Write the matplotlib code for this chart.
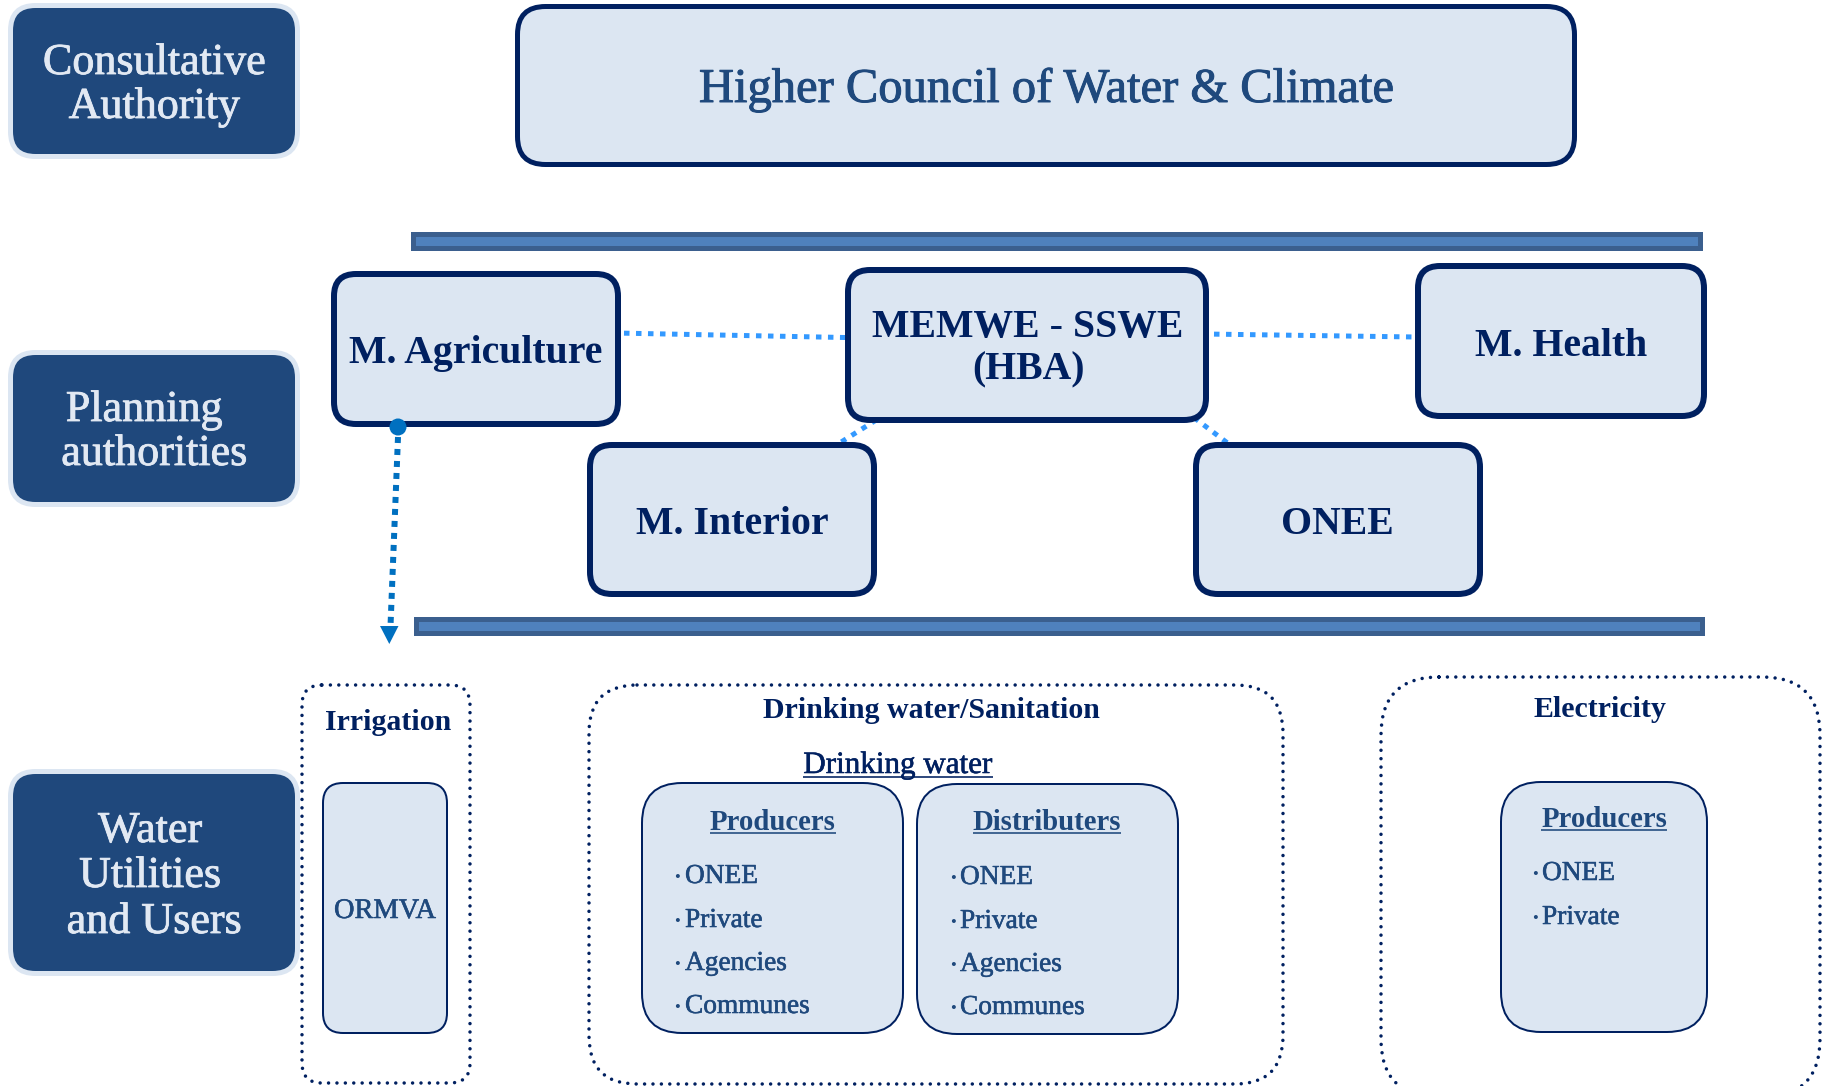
import matplotlib
matplotlib.use("Agg")
import matplotlib.pyplot as plt
import matplotlib.patheffects as pe
from matplotlib.patches import FancyBboxPatch, Rectangle, Polygon, Circle

# ---------------- data (text content of the diagram) ----------------
LEVEL_LABELS = [["Consultative", "Authority"],
                ["Planning", "authorities"],
                ["Water", "Utilities", "and Users"]]
COUNCIL = "Higher Council of Water & Climate"
PLANNING = ["M. Agriculture", "MEMWE - SSWE", "(HBA)", "M. Interior", "ONEE", "M. Health"]
SECTORS = ["Irrigation", "Drinking water/Sanitation", "Electricity"]
SUBSECTOR = "Drinking water"
IRRIGATION_UNITS = ["ORMVA"]
GROUP_TITLES = ["Producers", "Distributers", "Producers"]
DW_PRODUCERS = ["ONEE", "Private", "Agencies", "Communes"]
DW_DISTRIBUTERS = ["ONEE", "Private", "Agencies", "Communes"]
EL_PRODUCERS = ["ONEE", "Private"]

# ---------------- styling ----------------
FONT = "Liberation Serif"
DARK = "#1f487c"
LIGHT = "#dce6f2"
NAVY = "#002060"
MID = "#1f497d"
TXT_LIGHT = "#e2e9f3"
BAR_EDGE = "#3b5f8e"
BAR_FACE = "#4f81bd"
CONN = "#3399ff"
ARROW = "#0070c0"
PX = 72 / 100.0  # points per pixel

W, H = 1827, 1086
fig = plt.figure(figsize=(W / 100, H / 100), dpi=100)
ax = fig.add_axes([0, 0, 1, 1])
ax.set_xlim(0, W)
ax.set_ylim(H, 0)
ax.axis("off")
renderer = fig.canvas.get_renderer()


def rbox(x0, y0, x1, y1, r, fc, ec, lw_px, ls="-", z=2, cap=None):
    p = FancyBboxPatch((x0, y0), x1 - x0, y1 - y0,
                       boxstyle=f"round,pad=0,rounding_size={r}",
                       fc=fc, ec=ec, lw=lw_px * PX, ls=ls, zorder=z)
    if cap:
        p.set_capstyle(cap)
    ax.add_patch(p)
    return p


def fit_group(items, weight, color, ha="center", base=30.0, stroke=0.0):
    ts, ratios = [], []
    for x, y, s, w in items:
        t = ax.text(x, y, s, fontsize=base, family=FONT, fontweight=weight,
                    color=color, ha=ha, va="baseline", zorder=10)
        bw = t.get_window_extent(renderer).width
        ratios.append(w / bw)
        ts.append(t)
    r = sum(ratios) / len(ratios)
    for t in ts:
        t.set_fontsize(base * r)
        if stroke > 0:
            t.set_path_effects([pe.withStroke(linewidth=stroke, foreground=color)])
    return ts


def underline(t, offset, color, lw_px=1.6):
    bb = t.get_window_extent(renderer)
    inv = ax.transData.inverted()
    (x0, _), (x1, _) = inv.transform([(bb.x0, bb.y0), (bb.x1, bb.y0)])
    y = t.get_position()[1] + offset
    ax.plot([x0, x1], [y, y], color=color, lw=lw_px * PX, solid_capstyle="butt", zorder=10)


# ---------------- left level boxes ----------------
rbox(10.5, 5.5, 297.5, 156.5, 25, DARK, LIGHT, 5)
rbox(10.5, 352.5, 297.5, 504.5, 25, DARK, LIGHT, 5)
rbox(10.5, 771.5, 297.5, 973.5, 25, DARK, LIGHT, 5)

lvl_pos = [[(154, 74, 219), (154, 118, 170)],
           [(144, 421, 158), (154, 465, 190)],
           [(150, 842, 105), (150, 887, 140), (154, 933, 175)]]
items = []
for labels, poss in zip(LEVEL_LABELS, lvl_pos):
    for s, (x, y, w) in zip(labels, poss):
        items.append((x, y, s, w))
fit_group(items, "normal", TXT_LIGHT, stroke=0.6)

# ---------------- council ----------------
rbox(517.5, 6.5, 1574.5, 164.5, 28, LIGHT, NAVY, 5)
fit_group([(1046, 102, COUNCIL, 695)], "normal", MID, stroke=0.7)

# ---------------- bars ----------------
ax.add_patch(Rectangle((412.5, 233.5), 1287, 14, fc=BAR_FACE, ec=BAR_EDGE, lw=5 * PX, zorder=2))
ax.add_patch(Rectangle((415.5, 618.5), 1286, 14, fc=BAR_FACE, ec=BAR_EDGE, lw=5 * PX, zorder=2))

# ---------------- connectors (under boxes) ----------------
conn_kw = dict(color=CONN, lw=5 * PX, ls=(0, (1.1, 1.3)), dash_capstyle="butt", zorder=1)
ax.plot([600, 870], [332.7, 338.0], **conn_kw)
ax.plot([1190, 1430], [333.8, 337.2], **conn_kw)
ax.plot([876.5, 834.5], [419.8, 446.2], **conn_kw)
ax.plot([1194, 1232], [417.6, 446.4], **conn_kw)

# ---------------- planning boxes ----------------
rbox(334, 274, 618, 424, 22, LIGHT, NAVY, 6)     # M. Agriculture
rbox(848, 270, 1206, 420, 22, LIGHT, NAVY, 6)    # MEMWE
rbox(590, 445, 874, 594, 22, LIGHT, NAVY, 6)     # M. Interior
rbox(1196, 445, 1480, 594, 22, LIGHT, NAVY, 6)   # ONEE
rbox(1418, 266, 1704, 416, 22, LIGHT, NAVY, 6)   # M. Health

plan_pos = [(476, 363, 254), (1028, 337, 307), (1028, 379, 110),
            (732, 534, 192), (1337, 534, 114), (1561, 356, 176)]
fit_group([(x, y, s, w) for s, (x, y, w) in zip(PLANNING, plan_pos)], "bold", NAVY)

# ---------------- arrow from M. Agriculture ----------------
ax.plot([398, 390.5], [437, 626], color=ARROW, lw=6 * PX, ls=(0, (1, 1)),
        dash_capstyle="butt", zorder=3)
ax.add_patch(Polygon([(380, 626), (398.5, 626), (389.3, 644)], closed=True,
                     fc=ARROW, ec="none", zorder=3))
ax.add_patch(Circle((398, 427), 8.5, fc=ARROW, ec="none", zorder=4))

# ---------------- bottom containers ----------------
dot = (0, (0.001, 2.4))
rbox(302, 685, 470, 1083, 20, "white", NAVY, 3.5, ls=dot, z=2, cap="round")
rbox(589, 685, 1283, 1084, 48, "white", NAVY, 3.5, ls=dot, z=2, cap="round")
rbox(1381, 677, 1820, 1097, 58, "white", NAVY, 3.5, ls=dot, z=2, cap="round")

fit_group([(388, 730, SECTORS[0], 121), (931, 718, SECTORS[1], 343),
           (1600, 717, SECTORS[2], 134)], "bold", NAVY)

sub = fit_group([(898, 773, SUBSECTOR, 189)], "normal", NAVY, stroke=0.4)[0]
underline(sub, 3.5, NAVY)

# inner boxes
rbox(323, 783, 447, 1033, 20, LIGHT, NAVY, 2)
rbox(642, 783, 903, 1033, 40, LIGHT, NAVY, 2)
rbox(917, 784, 1178, 1034, 40, LIGHT, NAVY, 2)
rbox(1501, 782, 1707, 1032, 40, LIGHT, NAVY, 2)

fit_group([(385, 918, IRRIGATION_UNITS[0], 102)], "normal", MID, stroke=0.4)

gt = fit_group([(773, 830, GROUP_TITLES[0], 124), (1047, 830, GROUP_TITLES[1], 151),
                (1604, 827, GROUP_TITLES[2], 125)], "bold", MID)
for t in gt:
    underline(t, 3, MID)

# bullet lists
widths = {"ONEE": 72, "Private": 81, "Agencies": 98, "Communes": 124}
lists = [(DW_PRODUCERS, 685, 677, [883, 927, 970, 1013]),
         (DW_DISTRIBUTERS, 960, 953, [884, 928, 971, 1014]),
         (EL_PRODUCERS, 1542, 1535, [880, 924])]
list_items = []
for names, xt, xb, ys in lists:
    for s, y in zip(names, ys):
        list_items.append((xt, y, s, widths[s]))
        ax.text(xb, y - 1, "\u2022", fontsize=12, family=FONT, color=MID,
                ha="center", va="baseline", zorder=10)
fit_group(list_items, "normal", MID, ha="left", stroke=0.4)

fig.savefig("out.png", dpi=100, facecolor="white")
